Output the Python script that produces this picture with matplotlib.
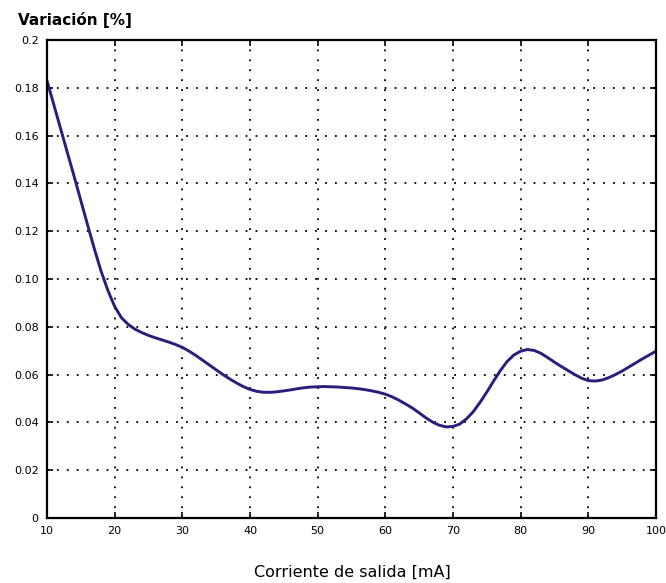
import matplotlib
matplotlib.use("Agg")
import matplotlib.pyplot as plt

x_ma = list(range(10, 101))
variacion = [
    0.1830, 0.1730, 0.1630, 0.1530, 0.1430, 0.1328, 0.1226, 0.1126, 0.1032, 0.0952,  # 10-19
    0.0885, 0.0838, 0.0810, 0.0790, 0.0776, 0.0764, 0.0754, 0.0745, 0.0736, 0.0726,  # 20-29
    0.0714, 0.0698, 0.0680, 0.0660, 0.0640, 0.0620, 0.0600, 0.0582, 0.0565, 0.0550,  # 30-39
    0.0538, 0.0530, 0.0526, 0.0526, 0.0528, 0.0532, 0.0536, 0.0541, 0.0545, 0.0548,  # 40-49
    0.0549, 0.0550, 0.0549, 0.0548, 0.0546, 0.0544, 0.0541, 0.0537, 0.0532, 0.0526,  # 50-59
    0.0518, 0.0507, 0.0493, 0.0477, 0.0460, 0.0440, 0.0419, 0.0401, 0.0388, 0.0381,  # 60-69
    0.0383, 0.0393, 0.0415, 0.0445, 0.0484, 0.0527, 0.0573, 0.0617, 0.0655, 0.0682,  # 70-79
    0.0698, 0.0705, 0.0701, 0.0689, 0.0671, 0.0652, 0.0634, 0.0617, 0.0600, 0.0585,  # 80-89
    0.0575, 0.0573, 0.0577, 0.0587, 0.0600, 0.0615, 0.0632, 0.0649, 0.0666, 0.0682,  # 90-99
    0.0698,                                                                          # 100
]

xticks = [10, 20, 30, 40, 50, 60, 70, 80, 90, 100]
yticks = [0, 0.02, 0.04, 0.06, 0.08, 0.10, 0.12, 0.14, 0.16, 0.18, 0.2]
ytick_labels = ["0", "0.02", "0.04", "0.06", "0.08", "0.10", "0.12", "0.14", "0.16", "0.18", "0.2"]

fig = plt.figure(figsize=(6.66, 5.83), dpi=100)
ax = fig.add_axes([47/666, 65/583, 609/666, 478/583])

ax.plot(x_ma, variacion, color="#2b1d7c", linewidth=2.1,
        solid_capstyle="round", solid_joinstyle="round")

ax.set_xlim(10, 100)
ax.set_ylim(0, 0.2)
ax.set_xticks(xticks)
ax.set_xticklabels([str(v) for v in xticks])
ax.set_yticks(yticks)
ax.set_yticklabels(ytick_labels)
ax.grid(True, color="black", linestyle=(0, (1, 4.5)), linewidth=1.3)
ax.tick_params(direction="in", length=4, width=1.2, top=True, right=True,
               labelsize=8, colors="black", pad=6)
for s in ax.spines.values():
    s.set_linewidth(1.6)
    s.set_color("black")

fig.text(18/666, 1 - 20/583, "Variación [%]", fontsize=11, fontweight="bold",
         ha="left", va="center")
fig.text(352/666, 1 - 572/583, "Corriente de salida [mA]", fontsize=11.5,
         ha="center", va="center")

fig.savefig("out.png", dpi=100)
